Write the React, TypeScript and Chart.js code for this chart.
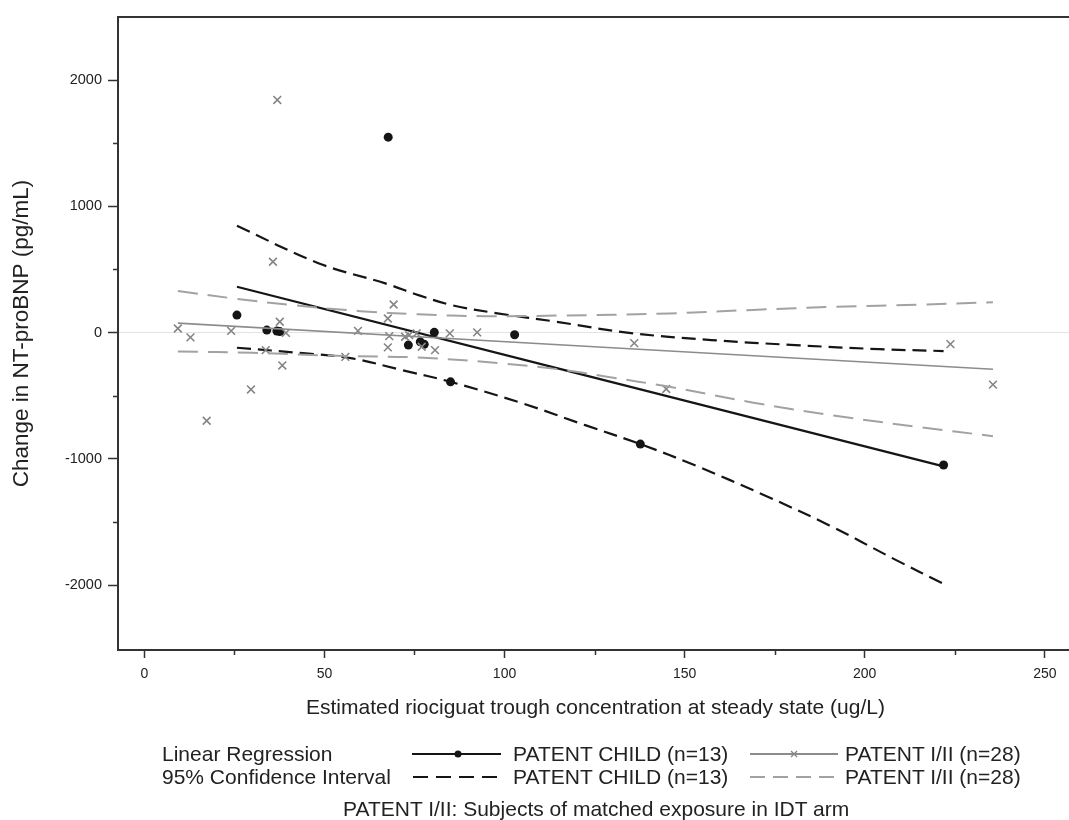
import React, { useEffect, useRef } from 'react';
import { Chart, registerables } from 'chart.js';

Chart.register(...registerables);

// ---- data ----
const childX = [25.7, 34.0, 36.8, 37.6, 67.7, 73.3, 76.6, 77.7, 80.5, 85.0, 102.8, 137.7, 221.9];
const childY = [139, 20, 12, 8, 1548, -99, -73, -93, 2, -390, -17, -883, -1049];

const patentX = [9.3, 12.8, 17.3, 24.1, 29.6, 33.7, 35.7, 36.9, 37.6, 38.3, 39.3, 55.8, 59.3, 67.6, 69.2, 68.0, 67.6, 72.4, 73.5, 75.6, 77.0, 80.7, 84.8, 92.4, 136.0, 144.9, 223.8, 235.6];
const patentY = [33, -38, -698, 14, -450, -139, 561, 1843, 86, -260, -2, -192, 14, 112, 223, -28, -117, -33, -20, -6, -112, -139, -6, 2, -83, -447, -91, -412];

const childRegX = [25.7, 221.9];
const childRegY = [363, -1060];
const childUpperX = [25.7, 48.5, 66.9, 76.1, 85.3, 98.0, 114.4, 134.0, 157.4, 180.7, 204.0, 221.9];
const childUpperY = [846, 548, 390, 297, 218, 153, 86, 0, -59, -99, -131, -146];
const childLowerX = [25.7, 44.8, 57.7, 71.5, 85.0, 105.1, 122.6, 137.7, 153.4, 171.8, 190.2, 208.6, 221.9];
const childLowerY = [-120, -165, -204, -297, -390, -561, -735, -883, -1057, -1284, -1527, -1800, -1990];

const patentRegX = [9.3, 235.6];
const patentRegY = [75, -290];
const patentUpperX = [9.3, 25.0, 41.1, 60.0, 76.0, 94.5, 115.0, 145.8, 169.0, 192.3, 215.6, 235.6];
const patentUpperY = [329, 270, 218, 170, 145, 130, 135, 152, 180, 205, 222, 240];
const patentLowerX = [9.3, 30.0, 55.8, 76.1, 99.3, 116.8, 128.4, 145.8, 169.1, 192.3, 215.6, 235.6];
const patentLowerY = [-150, -160, -186, -197, -244, -297, -350, -429, -555, -660, -750, -820];

const xTickValues = [0, 50, 100, 150, 200, 250];
const xMinorValues = [25, 75, 125, 175, 225];
const yTickValues = [-2000, -1000, 0, 1000, 2000];
const yMinorValues = [-1500, -500, 500, 1500];

const xTitle = 'Estimated riociguat trough concentration at steady state (ug/L)';
const yTitle = 'Change in NT-proBNP (pg/mL)';
const rowLabels = ['Linear Regression', '95% Confidence Interval'];
const childLabel = 'PATENT CHILD (n=13)';
const patentLabel = 'PATENT I/II (n=28)';
const footnote = 'PATENT I/II: Subjects of matched exposure in IDT arm';

const FONT = '"Liberation Sans", Arial, Helvetica, sans-serif';
const AXIS = '#333333';
const TEXT = '#222222';
const BLACK = '#151515';
const GRAY_SOLID = '#8c8c8c';
const GRAY_DASH = '#a2a2a2';
const GRAY_MARK = '#858585';

const pts = (xs: number[], ys: number[]) => xs.map((x, i) => ({ x, y: ys[i] }));

const framePlugin = {
  id: 'frameAndMinor',
  afterDraw(chart: any) {
    const { ctx, chartArea: a, scales } = chart;
    ctx.save();
    ctx.strokeStyle = AXIS;
    ctx.lineWidth = 2;
    ctx.beginPath();
    ctx.moveTo(a.left - 1, a.top);
    ctx.lineTo(a.right, a.top);
    ctx.lineTo(a.right, a.bottom);
    ctx.stroke();
    ctx.lineWidth = 1.5;
    ctx.beginPath();
    xMinorValues.forEach((v) => {
      const p = Math.round(scales.x.getPixelForValue(v)) + 0.5;
      ctx.moveTo(p, a.bottom);
      ctx.lineTo(p, a.bottom + 5);
    });
    yMinorValues.forEach((v) => {
      const p = Math.round(scales.y.getPixelForValue(v)) + 0.5;
      ctx.moveTo(a.left - 5, p);
      ctx.lineTo(a.left, p);
    });
    ctx.stroke();
    ctx.restore();
  },
};

function ChartCanvas() {
  const ref = useRef<HTMLCanvasElement | null>(null);
  useEffect(() => {
    if (!ref.current) return;
    const lineDs = (label: string, xs: number[], ys: number[], color: string, width: number, dash: number[]) => ({
      type: 'scatter' as const,
      label,
      data: pts(xs, ys),
      showLine: true,
      borderColor: color,
      backgroundColor: color,
      borderWidth: width,
      borderDash: dash,
      pointRadius: 0,
      pointHoverRadius: 0,
      tension: 0.35,
      fill: false,
    });
    const chart = new Chart(ref.current, {
      type: 'scatter',
      data: {
        datasets: [
          lineDs('PATENT I/II CI upper', patentUpperX, patentUpperY, GRAY_DASH, 2, [20, 10]),
          lineDs('PATENT I/II CI lower', patentLowerX, patentLowerY, GRAY_DASH, 2, [20, 10]),
          lineDs('PATENT I/II regression', patentRegX, patentRegY, GRAY_SOLID, 1.6, []),
          {
            type: 'scatter',
            label: patentLabel,
            data: pts(patentX, patentY),
            showLine: false,
            pointStyle: 'crossRot',
            pointRadius: 5.5,
            borderColor: GRAY_MARK,
            backgroundColor: GRAY_MARK,
            pointBorderWidth: 1.6,
          } as any,
          lineDs('PATENT CHILD CI upper', childUpperX, childUpperY, BLACK, 2.2, [14, 7]),
          lineDs('PATENT CHILD CI lower', childLowerX, childLowerY, BLACK, 2.2, [14, 7]),
          lineDs('PATENT CHILD regression', childRegX, childRegY, BLACK, 2.2, []),
          {
            type: 'scatter',
            label: childLabel,
            data: pts(childX, childY),
            showLine: false,
            pointStyle: 'circle',
            pointRadius: 4.5,
            borderColor: BLACK,
            backgroundColor: BLACK,
            borderWidth: 0,
          } as any,
        ],
      },
      options: {
        animation: false,
        responsive: false,
        devicePixelRatio: 1,
        layout: { padding: { left: 0, top: 17, right: 2, bottom: 0 } },
        plugins: { legend: { display: false }, tooltip: { enabled: false } },
        scales: {
          x: {
            type: 'linear',
            min: -7.32,
            max: 257.8,
            afterBuildTicks: (s: any) => {
              s.ticks = xTickValues.map((v) => ({ value: v }));
            },
            afterFit: (s: any) => {
              s.height = 170;
            },
            ticks: {
              autoSkip: false,
              maxRotation: 0,
              padding: 8,
              color: TEXT,
              font: { family: FONT, size: 14 },
              callback: (v: any) => String(v),
            },
            grid: {
              drawOnChartArea: false,
              drawTicks: true,
              tickLength: 8,
              tickColor: AXIS,
              tickWidth: 1.5,
            },
            border: { display: true, color: AXIS, width: 2 },
            title: {
              display: true,
              text: xTitle,
              color: TEXT,
              font: { family: FONT, size: 21 },
              padding: { top: 0, bottom: 99 },
            },
          },
          y: {
            type: 'linear',
            min: -2514,
            max: 2500,
            afterBuildTicks: (s: any) => {
              s.ticks = yTickValues.map((v) => ({ value: v }));
            },
            afterFit: (s: any) => {
              s.width = 118;
            },
            ticks: {
              autoSkip: false,
              padding: 6,
              color: TEXT,
              font: { family: FONT, size: 14.5 },
              callback: (v: any) => String(v),
            },
            grid: {
              drawOnChartArea: true,
              color: (c: any) => (c.tick && c.tick.value === 0 ? '#e3e3e3' : 'rgba(0,0,0,0)'),
              lineWidth: 1,
              drawTicks: true,
              tickLength: 10,
              tickColor: AXIS,
              tickWidth: 1.5,
            },
            border: { display: true, color: AXIS, width: 2 },
            title: {
              display: true,
              text: yTitle,
              color: TEXT,
              font: { family: FONT, size: 22.5 },
              padding: { top: 8, bottom: 0 },
            },
          },
        },
      },
      plugins: [framePlugin],
    } as any);
    return () => chart.destroy();
  }, []);
  return <canvas ref={ref} width={1080} height={820} style={{ display: 'block' }} />;
}

const textStyle = (left: number, centerY: number): React.CSSProperties => ({
  position: 'absolute',
  left,
  top: centerY - 12,
  fontFamily: FONT,
  fontSize: 21,
  lineHeight: '24px',
  color: TEXT,
  whiteSpace: 'nowrap',
});

function Legend() {
  const r1 = 754;
  const r2 = 777;
  return (
    <>
      <div style={textStyle(162, r1)}>{rowLabels[0]}</div>
      <div style={textStyle(162, r2)}>{rowLabels[1]}</div>
      <div style={textStyle(513, r1)}>{childLabel}</div>
      <div style={textStyle(513, r2)}>{childLabel}</div>
      <div style={textStyle(845, r1)}>{patentLabel}</div>
      <div style={textStyle(845, r2)}>{patentLabel}</div>
      <svg
        width={1069}
        height={60}
        style={{ position: 'absolute', left: 0, top: 735 }}
        xmlns="http://www.w3.org/2000/svg"
      >
        <line x1={412} y1={r1 - 735} x2={501} y2={r1 - 735} stroke={BLACK} strokeWidth={2.2} />
        <circle cx={458} cy={r1 - 735} r={3.5} fill={BLACK} />
        <line x1={750} y1={r1 - 735} x2={838} y2={r1 - 735} stroke={GRAY_SOLID} strokeWidth={1.8} />
        <line x1={791} y1={r1 - 738} x2={797} y2={r1 - 732} stroke={GRAY_MARK} strokeWidth={1.3} />
        <line x1={791} y1={r1 - 732} x2={797} y2={r1 - 738} stroke={GRAY_MARK} strokeWidth={1.3} />
        <line x1={413} y1={r2 - 735} x2={500} y2={r2 - 735} stroke={BLACK} strokeWidth={2.2} strokeDasharray="15 8" />
        <line x1={750} y1={r2 - 735} x2={838} y2={r2 - 735} stroke={GRAY_DASH} strokeWidth={2} strokeDasharray="15 8" />
      </svg>
      <div style={textStyle(343, 809)}>{footnote}</div>
    </>
  );
}

export default function App() {
  return (
    <div
      style={{
        position: 'absolute',
        left: 0,
        top: 0,
        width: 1069,
        height: 820,
        overflow: 'hidden',
        background: '#ffffff',
      }}
    >
      <ChartCanvas />
      <Legend />
    </div>
  );
}
